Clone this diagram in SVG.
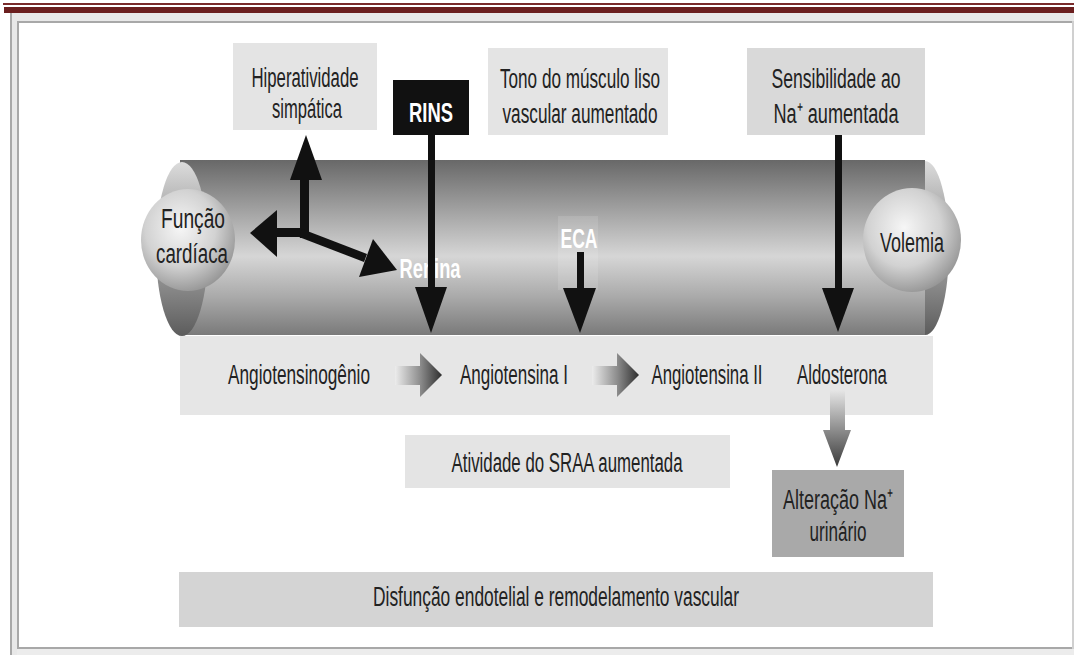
<svg xmlns="http://www.w3.org/2000/svg" width="1074" height="655" viewBox="0 0 1074 655">
<defs>
<style>
.t{font-family:"Liberation Sans Narrow","Liberation Sans",Arial,sans-serif;font-size:27px;fill:#222;text-anchor:middle}
.w{fill:#fff;font-weight:bold}
.box{fill:#e4e4e4}
.arr{fill:#111}
</style>
<linearGradient id="tube" x1="0" y1="0" x2="0" y2="1">
<stop offset="0" stop-color="#686868"/>
<stop offset="0.25" stop-color="#9a9a9a"/>
<stop offset="0.55" stop-color="#d6d6d6"/>
<stop offset="0.78" stop-color="#aaaaaa"/>
<stop offset="1" stop-color="#7a7a7a"/>
</linearGradient>
<linearGradient id="cap" x1="0" y1="0" x2="0" y2="1">
<stop offset="0" stop-color="#dcdcdc"/>
<stop offset="0.3" stop-color="#a8a8a8"/>
<stop offset="0.7" stop-color="#8c8c8c"/>
<stop offset="1" stop-color="#5c5c5c"/>
</linearGradient>
<radialGradient id="sph" cx="0.42" cy="0.38" r="0.68">
<stop offset="0" stop-color="#f6f6f6"/>
<stop offset="0.55" stop-color="#d2d2d2"/>
<stop offset="1" stop-color="#8e8e8e"/>
</radialGradient>
<linearGradient id="harr" x1="0" y1="0" x2="1" y2="0">
<stop offset="0" stop-color="#ececec"/>
<stop offset="0.55" stop-color="#8a8a8a"/>
<stop offset="1" stop-color="#2e2e2e"/>
</linearGradient>
<linearGradient id="varr" x1="0" y1="0" x2="0" y2="1">
<stop offset="0" stop-color="#e6e6e6"/>
<stop offset="1" stop-color="#3a3a3a"/>
</linearGradient>
</defs>

<g id="frame">
<rect x="0" y="0" width="1074" height="655" fill="#fff"/>
<rect x="3" y="3" width="1071" height="2" fill="#7a2b2b"/>
<rect x="4" y="7" width="1070" height="6" fill="#6b1f1f"/>
<rect x="10" y="13" width="1064" height="9" fill="#e8e8e8"/>
<rect x="10" y="13" width="8" height="642" fill="#e8e8e8"/>
<rect x="10" y="13" width="2" height="642" fill="#a8a8a8"/>
<rect x="17" y="21" width="1057" height="2" fill="#a8a8a8"/>
<rect x="17" y="21" width="2" height="628" fill="#a8a8a8"/>
<rect x="17" y="647" width="1057" height="2" fill="#a8a8a8"/>
<rect x="17" y="649" width="1057" height="6" fill="#ececec"/>
<rect x="1072" y="21" width="2" height="628" fill="#d0d0d0"/>
</g>

<g id="vessel">
<ellipse cx="925" cy="248" rx="24" ry="87" fill="url(#cap)"/>
<rect x="180" y="160" width="745" height="175" fill="url(#tube)"/>
<ellipse cx="182" cy="249" rx="26" ry="87" fill="url(#cap)"/>
<rect x="558" y="216" width="40" height="74" fill="#fff" opacity="0.12"/>
</g>

<g id="funcao-cardiaca">
<ellipse cx="188" cy="240" rx="47" ry="51" fill="url(#sph)"/>
<text class="t" x="193" y="228" textLength="64" lengthAdjust="spacingAndGlyphs">Função</text>
<text class="t" x="192" y="263" textLength="72" lengthAdjust="spacingAndGlyphs">cardíaca</text>
</g>

<g id="volemia">
<ellipse cx="912" cy="240" rx="49" ry="52" fill="url(#sph)"/>
<text class="t" x="912" y="252" textLength="64" lengthAdjust="spacingAndGlyphs">Volemia</text>
</g>

<g id="hiperatividade">
<rect class="box" x="233" y="43" width="144" height="87"/>
<text class="t" x="305" y="87" textLength="107" lengthAdjust="spacingAndGlyphs">Hiperatividade</text>
<text class="t" x="307" y="118" textLength="70" lengthAdjust="spacingAndGlyphs">simpática</text>
</g>

<g id="rins">
<rect x="393" y="80" width="76" height="55" fill="#111"/>
<text class="t w" x="431" y="122" textLength="44" lengthAdjust="spacingAndGlyphs">RINS</text>
</g>

<g id="tono">
<rect class="box" x="488" y="48" width="180" height="87"/>
<text class="t" x="580" y="88" textLength="160" lengthAdjust="spacingAndGlyphs">Tono do músculo liso</text>
<text class="t" x="580" y="123" textLength="155" lengthAdjust="spacingAndGlyphs">vascular aumentado</text>
</g>

<g id="sensibilidade">
<rect x="747" y="48" width="178" height="87" fill="#d9d9d9"/>
<text class="t" x="836" y="88" textLength="129" lengthAdjust="spacingAndGlyphs">Sensibilidade ao</text>
<text class="t" x="836" y="123" textLength="125" lengthAdjust="spacingAndGlyphs">Na⁺ aumentada</text>
</g>

<g id="cascata">
<rect x="180" y="336" width="753" height="79" fill="#e6e6e6"/>
<text class="t" x="299" y="384" textLength="142" lengthAdjust="spacingAndGlyphs">Angiotensinogênio</text>
<text class="t" x="514" y="384" textLength="108" lengthAdjust="spacingAndGlyphs">Angiotensina I</text>
<text class="t" x="707" y="384" textLength="111" lengthAdjust="spacingAndGlyphs">Angiotensina II</text>
<text class="t" x="842" y="384" textLength="90" lengthAdjust="spacingAndGlyphs">Aldosterona</text>
</g>

<g id="atividade">
<rect class="box" x="405" y="435" width="325" height="53"/>
<text class="t" x="567" y="472" textLength="231" lengthAdjust="spacingAndGlyphs">Atividade do SRAA aumentada</text>
</g>

<g id="alteracao">
<rect x="772" y="470" width="132" height="87" fill="#a9a9a9"/>
<text class="t" x="838" y="509" textLength="110" lengthAdjust="spacingAndGlyphs">Alteração Na⁺</text>
<text class="t" x="838" y="541" textLength="57" lengthAdjust="spacingAndGlyphs">urinário</text>
</g>

<g id="disfuncao">
<rect x="179" y="572" width="754" height="55" fill="#d4d4d4"/>
<text class="t" x="556" y="606" textLength="366" lengthAdjust="spacingAndGlyphs">Disfunção endotelial e remodelamento vascular</text>
</g>

<g id="connectors">
<rect class="arr" x="300" y="178" width="9" height="60"/>
<polygon class="arr" points="290,180 322,180 306,135"/>
<rect class="arr" x="275" y="228" width="33" height="9"/>
<polygon class="arr" points="277,210 277,257 250,233"/>
<polygon class="arr" points="302,229 367,254 364,262 299,237"/>
<polygon class="arr" points="373,239 359,277 397,270"/>
<text class="t w" x="430" y="278" textLength="61" lengthAdjust="spacingAndGlyphs">Renina</text>
<rect class="arr" x="428" y="135" width="7" height="154"/>
<polygon class="arr" points="415,287 447,287 431,333"/>
<text class="t w" x="579" y="248" textLength="37" lengthAdjust="spacingAndGlyphs">ECA</text>
<rect class="arr" x="577" y="252" width="7" height="38"/>
<polygon class="arr" points="563,288 596,288 580,333"/>
<rect class="arr" x="835" y="135" width="7" height="155"/>
<polygon class="arr" points="822,288 854,288 838,332"/>
<polygon fill="url(#harr)" points="395,366 420,366 420,353 442,375 420,397 420,385 395,385"/>
<polygon fill="url(#harr)" points="592,366 617,366 617,353 639,375 617,397 617,385 592,385"/>
<polygon fill="url(#varr)" points="830,390 845,390 845,430 851,430 837,467 823,430 830,430"/>
</g>
</svg>
